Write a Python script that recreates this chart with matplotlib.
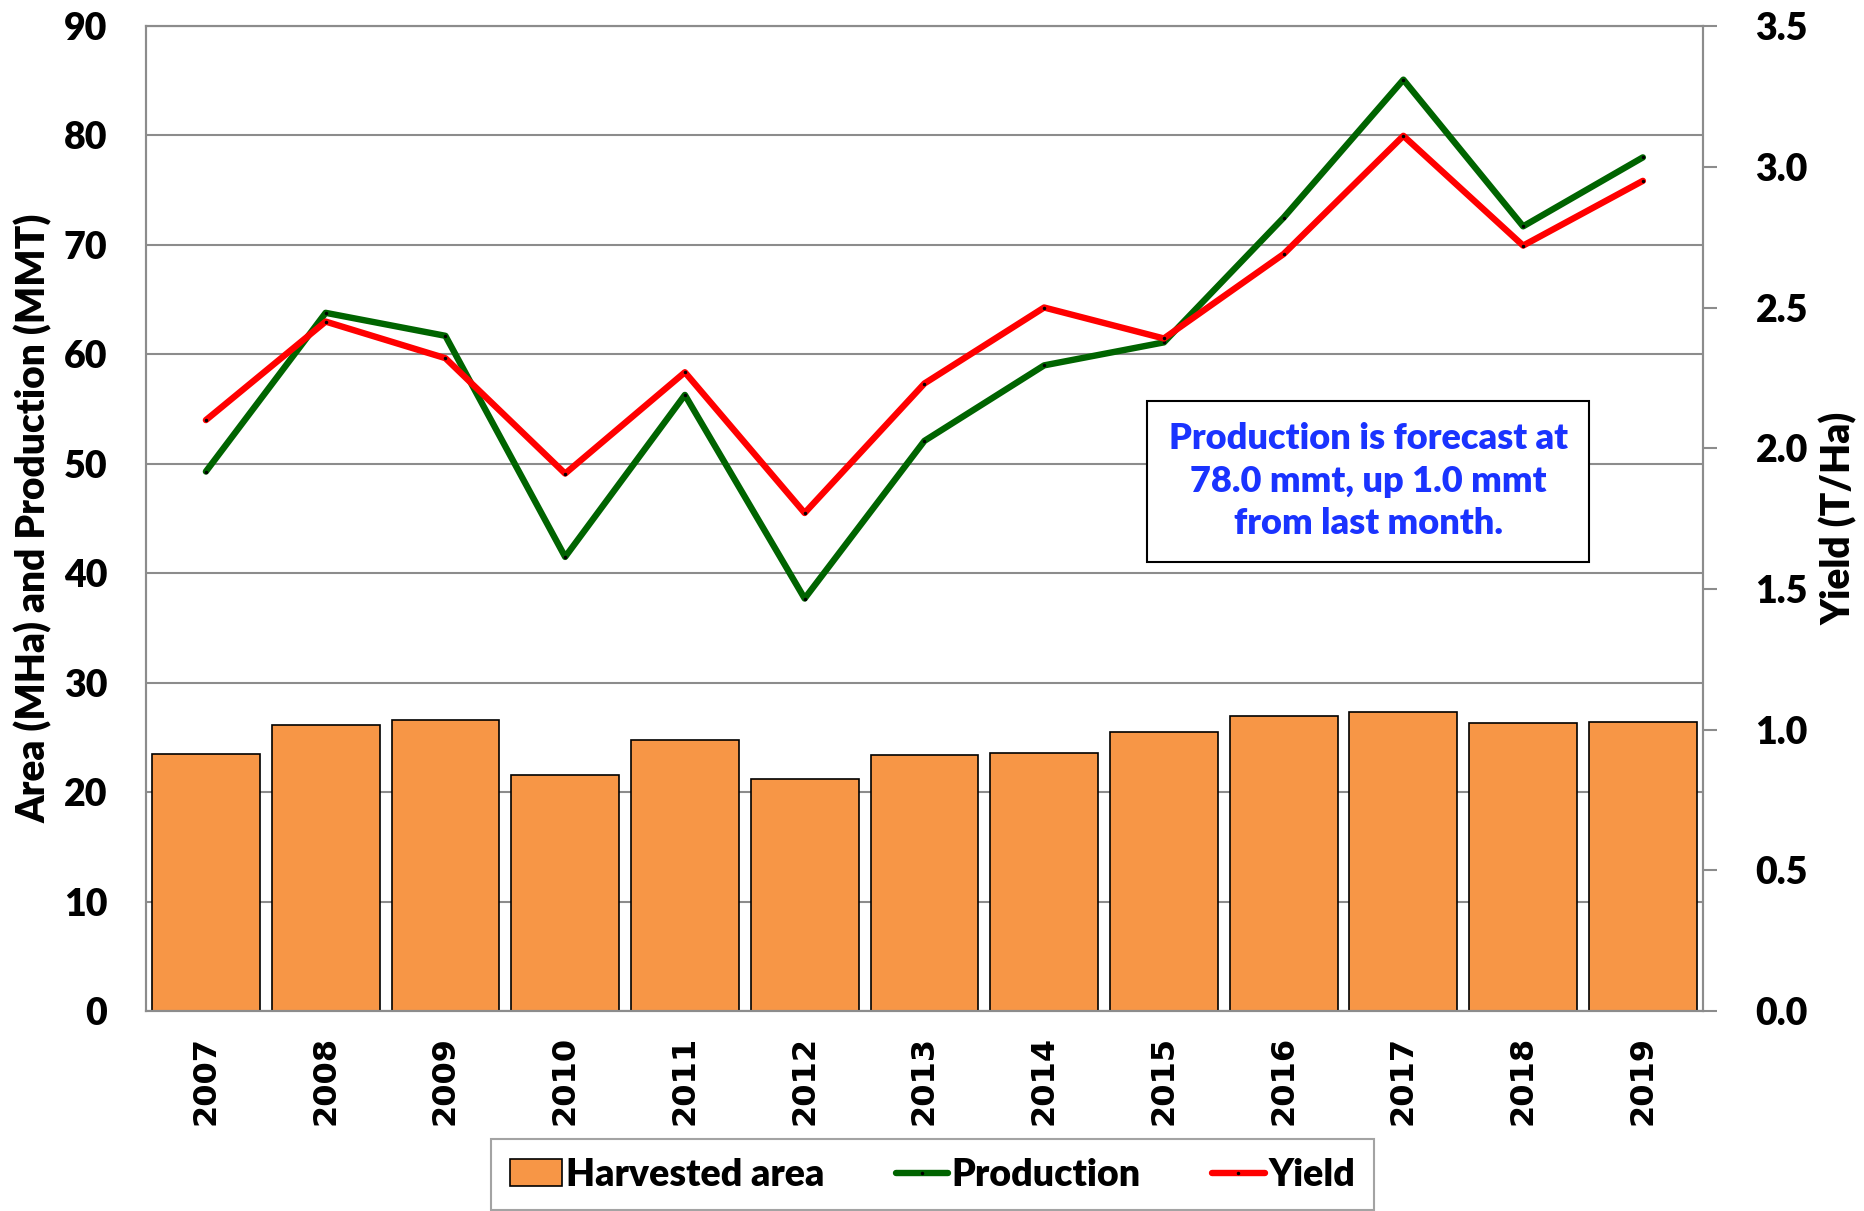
import matplotlib.pyplot as plt
import numpy as np

years = ["2007", "2008", "2009", "2010", "2011", "2012", "2013",
         "2014", "2015", "2016", "2017", "2018", "2019"]
# harvested area (MHa)
area = [23.5, 26.1, 26.6, 21.6, 24.8, 21.2, 23.4, 23.6, 25.5, 27.0, 27.3, 26.3, 26.4]
# production (MMT)
production = [49.3, 63.8, 61.7, 41.5, 56.3, 37.7, 52.1, 59.0, 61.1, 72.5, 85.1, 71.7, 78.0]
# yield (T/Ha)
yld = [2.10, 2.45, 2.32, 1.91, 2.27, 1.77, 2.23, 2.50, 2.39, 2.69, 3.11, 2.72, 2.95]

tick_font = "Lato"
heavy = "heavy"
x = np.arange(len(years))

fig = plt.figure(figsize=(18.65, 12.11), dpi=100)
ax = fig.add_axes([0.0783, 0.165, 0.8347, 0.8135])
ax2 = ax.twinx()

# bars + production on left axis
bars = ax.bar(x, area, width=0.9, color="#F79646", edgecolor="black",
              linewidth=1.2, zorder=2, label="Harvested area")
prod_line, = ax.plot(x, production, color="#006400", linewidth=4.6,
                     solid_capstyle="round", marker=".", markersize=3,
                     markerfacecolor="black", markeredgecolor="black",
                     zorder=3, label="Production")
ax.set_ylim(0, 90)
ax.set_xlim(-0.5, 12.5)
ax.set_yticks(range(0, 91, 10))
ax.yaxis.grid(True, color="#8c8c8c", linewidth=1.5, zorder=0)
ax.set_axisbelow(True)

# yield on right axis
yld_line, = ax2.plot(x, yld, color="#FF0000", linewidth=4.6,
                     solid_capstyle="round", marker=".", markersize=3,
                     markerfacecolor="black", markeredgecolor="black",
                     label="Yield")
ax2.set_ylim(0, 3.5)
ax2.set_yticks(np.arange(0, 3.51, 0.5))
ax2.set_yticklabels([f"{v:.1f}" for v in np.arange(0, 3.51, 0.5)])

for a in (ax, ax2):
    for s in a.spines.values():
        s.set_color("#8c8c8c")
        s.set_linewidth(1.5)

ax.set_xticks(x)
ax.set_xticklabels(years, rotation=90, fontsize=23, fontweight="bold",
                   family="DejaVu Sans")
ax.tick_params(axis="x", length=0, pad=18)
ax.tick_params(axis="y", length=0, pad=28)
ax2.tick_params(axis="y", length=10, width=1.5, color="#8c8c8c", pad=28)
for lab in ax.get_yticklabels() + ax2.get_yticklabels():
    lab.set_fontsize(27)
    lab.set_fontweight(heavy)
    lab.set_family(tick_font)

ax.set_ylabel("Area (MHa) and Production (MMT)", fontsize=28,
              fontweight=heavy, family=tick_font, labelpad=8)
ax2.set_ylabel("Yield (T/Ha)", fontsize=28, fontweight=heavy,
               family=tick_font, labelpad=8)

ax2.text(0.785, 0.538,
         "Production is forecast at\n78.0 mmt, up 1.0 mmt\nfrom last month.",
         transform=ax2.transAxes, ha="center", va="center",
         fontsize=26, fontweight=heavy, family=tick_font, color="#1a33ff",
         linespacing=1.35,
         bbox=dict(boxstyle="square,pad=0.6", facecolor="white",
                   edgecolor="black", linewidth=1.5))

leg = fig.legend(handles=[bars, prod_line, yld_line],
                 loc="center", bbox_to_anchor=(0.5, 0.03), ncol=3,
                 frameon=True, fancybox=False, edgecolor="#8c8c8c",
                 prop={"family": tick_font, "weight": heavy, "size": 27},
                 handlelength=1.4, handletextpad=0.1, columnspacing=1.9,
                 borderpad=0.5)
leg.get_frame().set_linewidth(1.5)

fig.savefig("out.png", dpi=100)
